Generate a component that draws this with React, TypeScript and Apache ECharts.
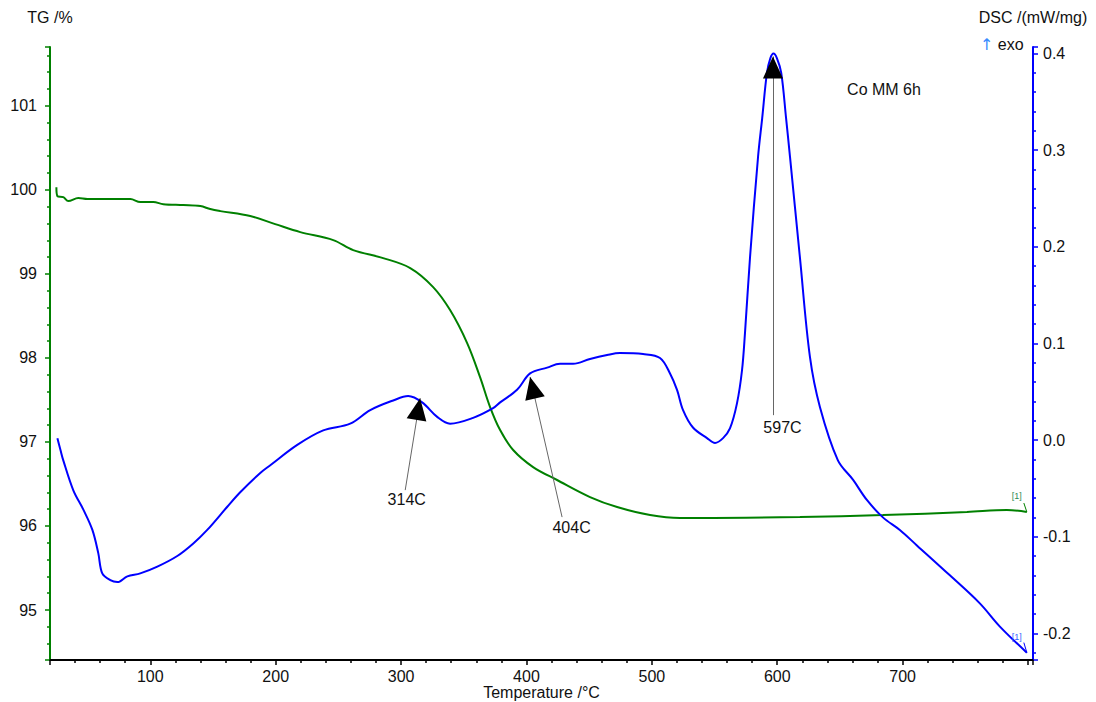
import React, { useEffect, useRef } from "react";
import * as echarts from "echarts";

// ---------- data ----------
const tgTemp = [25.1, 25.9, 30.6, 34.6, 42.6, 49.8, 70.5, 84.1, 92.0, 102.4, 110.4, 126.3, 139.9, 147.8, 155.8, 179.7, 199.6, 219.6, 245.9, 261.8, 285.7, 307.3, 325.6, 339.1, 352.7, 363.0, 371.0, 379.0, 389.4, 405.3, 424.4, 450.7, 472.3, 498.6, 522.5, 538.5, 618.1, 684.3, 751.3, 783.1, 799.1];
const tgValue = [100.03, 99.926, 99.914, 99.866, 99.902, 99.89, 99.89, 99.89, 99.854, 99.854, 99.83, 99.819, 99.807, 99.771, 99.747, 99.688, 99.592, 99.497, 99.402, 99.283, 99.188, 99.069, 98.843, 98.569, 98.177, 97.772, 97.415, 97.141, 96.904, 96.701, 96.547, 96.344, 96.225, 96.13, 96.095, 96.095, 96.107, 96.13, 96.166, 96.19, 96.166];

const dscTemp = [25.9, 28.3, 30.6, 38.6, 46.6, 53.8, 58.5, 61.7, 68.1, 73.7, 81.7, 92.0, 105.6, 121.5, 134.3, 145.4, 161.4, 171.7, 187.7, 195.7, 217.2, 237.9, 259.4, 275.4, 293.7, 305.7, 316.8, 328.8, 339.1, 357.5, 373.4, 379.0, 392.5, 402.9, 416.5, 426.8, 437.2, 450.7, 464.3, 474.6, 493.0, 506.5, 514.5, 520.1, 524.9, 532.8, 544.0, 550.4, 556.8, 562.3, 567.9, 571.9, 574.3, 578.3, 584.7, 588.0, 591.8, 594.5, 597.0, 599.8, 603.2, 607.0, 610.2, 618.1, 626.1, 634.1, 648.4, 660.4, 671.5, 684.3, 697.8, 711.4, 737.7, 761.6, 777.6, 799.1];
const dscValue = [0.002, -0.01, -0.021, -0.052, -0.072, -0.093, -0.117, -0.138, -0.145, -0.147, -0.141, -0.138, -0.131, -0.12, -0.107, -0.093, -0.069, -0.054, -0.034, -0.026, -0.005, 0.01, 0.017, 0.031, 0.041, 0.0455, 0.039, 0.024, 0.017, 0.023, 0.033, 0.039, 0.052, 0.069, 0.075, 0.079, 0.079, 0.084, 0.088, 0.09, 0.089, 0.085, 0.069, 0.052, 0.031, 0.013, 0.002, -0.003, 0.002, 0.012, 0.038, 0.072, 0.111, 0.189, 0.293, 0.333, 0.38, 0.395, 0.4, 0.395, 0.38, 0.334, 0.293, 0.189, 0.086, 0.034, -0.021, -0.041, -0.062, -0.08, -0.093, -0.109, -0.14, -0.169, -0.193, -0.22];

// peak annotations (arrow tip, arrow tail, label centre) in data units
const peakLabels = ["314C", "404C", "597C"];
const tipTemp = [315.2, 402.9, 596.6];
const tipDsc = [0.0434, 0.0652, 0.397];
const tailTemp = [303.3, 428.4, 596.6];
const tailDsc = [-0.0518, -0.0797, 0.0258];
const labelTemp = [304.5, 436.0, 604.2];
const labelDsc = [-0.061, -0.0906, 0.0129];
const arrowRotate = [-9.5, 13, 0];

// end-of-curve "[1]" marks
const endMarkTemp = 791.1;
const endMarkTg = 96.356;
const endMarkDsc = -0.2038;
const endTailTemp = 796.7;
const endTailTg = 96.273;
const endTailDsc = -0.2096;

// axis extents
const tempMin = 20;
const tempMax = 804;
const tgMin = 94.405;
const tgMax = 101.7;
const dscMin = -0.2276;
const dscMax = 0.4068;
const tempLabelMax = 700;

const FONT = "'Liberation Sans', Arial, sans-serif";
const GREEN = "#008000";
const BLUE = "#0000ff";
const TXT = "#111";

export default function App() {
  const ref = useRef<HTMLDivElement>(null);

  useEffect(() => {
    document.body.style.margin = "0";
    if (!ref.current) return;
    const chart = echarts.init(ref.current, null, { renderer: "svg" });

    const tgData = tgTemp.map((t, i) => [t, tgValue[i]]);
    const dscData = dscTemp.map((t, i) => [t, dscValue[i]]);
    const lastTg = tgData[tgData.length - 1];
    const lastDsc = dscData[dscData.length - 1];

    const H = 22;
    const arrowHeads = tipTemp.map((t, i) => {
      const th = (arrowRotate[i] * Math.PI) / 180;
      return {
        coord: [t, tipDsc[i]],
        symbol: "triangle",
        symbolSize: [20, H],
        symbolRotate: arrowRotate[i],
        symbolOffset: [(H / 2) * Math.sin(th), (H / 2) * Math.cos(th)],
        itemStyle: { color: "#000" },
        label: { show: false },
      };
    });
    const arrowLabels = peakLabels.map((txt, i) => ({
      coord: [labelTemp[i], labelDsc[i]],
      symbol: "circle",
      symbolSize: 0,
      label: {
        show: true,
        position: "inside",
        formatter: txt,
        color: TXT,
        fontSize: 16,
        fontFamily: FONT,
      },
    }));

    const option: any = {
      animation: false,
      backgroundColor: "#fff",
      grid: { left: 50, right: 63, top: 47, bottom: 42, containLabel: false, outerBoundsMode: "none" },
      xAxis: {
        type: "value",
        min: tempMin,
        max: tempMax,
        minInterval: 100,
        maxInterval: 100,
        name: "Temperature /°C",
        nameLocation: "middle",
        nameGap: 24,
        nameMoveOverlap: false,
        nameTextStyle: { color: TXT, fontSize: 16, fontFamily: FONT, verticalAlign: "top" },
        axisLine: { show: true, onZero: false, lineStyle: { color: "#000", width: 2 } },
        axisTick: { show: true, length: 5, lineStyle: { color: "#000", width: 1.5 } },
        minorTick: { show: true, splitNumber: 5, length: 3, lineStyle: { color: "#000", width: 1.5 } },
        axisLabel: {
          color: TXT,
          fontSize: 16,
          fontFamily: FONT,
          margin: 8,
          showMinLabel: false,
          showMaxLabel: false,
          formatter: (v: number) => (v > tempLabelMax || v < 100 ? "" : String(v)),
        },
        splitLine: { show: false },
      },
      yAxis: [
        {
          type: "value",
          position: "left",
          min: tgMin,
          max: tgMax,
          minInterval: 1,
          maxInterval: 1,
          name: "TG /%",
          nameLocation: "end",
          nameGap: 22,
          nameTextStyle: { color: TXT, fontSize: 16, fontFamily: FONT, align: "center" },
          axisLine: { show: true, onZero: false, lineStyle: { color: GREEN, width: 2 } },
          axisTick: { show: true, length: 5, lineStyle: { color: GREEN, width: 1.5 } },
          minorTick: { show: true, splitNumber: 5, length: 3, lineStyle: { color: GREEN, width: 1.5 } },
          axisLabel: {
            color: TXT,
            fontSize: 16,
            fontFamily: FONT,
            margin: 13,
            showMinLabel: false,
            showMaxLabel: false,
            formatter: (v: number) => String(Math.round(v)),
          },
          splitLine: { show: false },
        },
        {
          type: "value",
          position: "right",
          min: dscMin,
          max: dscMax,
          minInterval: 0.1,
          maxInterval: 0.1,
          name: "DSC /(mW/mg)",
          nameLocation: "end",
          nameGap: 22,
          nameTextStyle: { color: TXT, fontSize: 16, fontFamily: FONT, align: "center" },
          axisLine: { show: true, onZero: false, lineStyle: { color: BLUE, width: 2 } },
          axisTick: { show: true, length: 5, lineStyle: { color: BLUE, width: 1.5 } },
          minorTick: { show: true, splitNumber: 5, length: 3, lineStyle: { color: BLUE, width: 1.5 } },
          axisLabel: {
            color: TXT,
            fontSize: 16,
            fontFamily: FONT,
            margin: 10,
            showMinLabel: false,
            showMaxLabel: false,
            formatter: (v: number) => v.toFixed(1),
          },
          splitLine: { show: false },
        },
      ],
      series: [
        {
          name: "TG",
          type: "line",
          yAxisIndex: 0,
          data: tgData,
          showSymbol: false,
          smooth: 0.35,
          lineStyle: { color: GREEN, width: 2 },
          itemStyle: { color: GREEN },
          z: 2,
          markPoint: {
            silent: true,
            data: [
              {
                coord: [endMarkTemp, endMarkTg],
                symbol: "circle",
                symbolSize: 0,
                label: { show: true, position: "inside", formatter: "[1]", color: "#2e8b57", fontSize: 9, fontFamily: FONT },
              },
            ],
          },
          markLine: {
            silent: true,
            symbol: ["none", "none"],
            label: { show: false },
            lineStyle: { color: GREEN, width: 1, type: "solid" },
            data: [[{ coord: lastTg }, { coord: [endTailTemp, endTailTg] }]],
          },
        },
        {
          name: "DSC",
          type: "line",
          yAxisIndex: 1,
          data: dscData,
          showSymbol: false,
          smooth: 0.35,
          lineStyle: { color: BLUE, width: 2 },
          itemStyle: { color: BLUE },
          z: 3,
          markLine: {
            silent: true,
            symbol: ["none", "none"],
            label: { show: false },
            data: [
              ...tipTemp.map((t, i) => [
                { coord: [t, tipDsc[i]], lineStyle: { color: "#666", width: 1, type: "solid" } },
                { coord: [tailTemp[i], tailDsc[i]] },
              ]),
              [
                { coord: lastDsc, lineStyle: { color: BLUE, width: 1, type: "solid" } },
                { coord: [endTailTemp, endTailDsc] },
              ],
            ],
          },
          markPoint: {
            silent: true,
            data: [
              ...arrowHeads,
              ...arrowLabels,
              {
                coord: [endMarkTemp, endMarkDsc],
                symbol: "circle",
                symbolSize: 0,
                label: { show: true, position: "inside", formatter: "[1]", color: "#3366ff", fontSize: 9, fontFamily: FONT },
              },
            ],
          },
        },
      ],
      graphic: [
        {
          type: "text",
          x: 884,
          y: 89,
          style: {
            text: "Co MM 6h",
            fill: TXT,
            font: "16px " + FONT,
            align: "center",
            verticalAlign: "middle",
          },
        },
        {
          type: "text",
          x: 980,
          y: 44,
          style: {
            text: "{a|↑} exo",
            fill: TXT,
            font: "16px " + FONT,
            verticalAlign: "middle",
            rich: {
              a: { fill: "#3a8cff", fontSize: 16, fontFamily: "'DejaVu Sans', sans-serif" },
            },
          },
        },
      ],
    };

    chart.setOption(option);
    return () => chart.dispose();
  }, []);

  return <div ref={ref} style={{ width: 1096, height: 702 }} />;
}
